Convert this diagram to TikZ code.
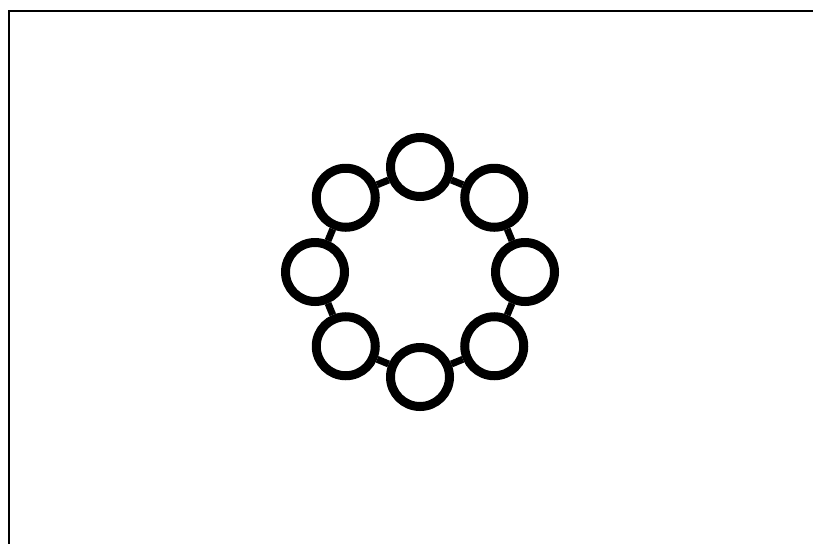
\documentclass[tikz,border=0pt]{standalone}
\usetikzlibrary{calc}
\begin{document}
\begin{tikzpicture}[x=1pt,y=1pt,
  ring/.style={circle,draw=black,fill=white,line width=9pt,minimum size=59pt,inner sep=0pt},
  link/.style={line width=7pt,black},
  frameline/.style={line width=2.2pt,black}]
\useasboundingbox (0,0) rectangle (813,-544);
\coordinate (fa) at (813,-11);
\coordinate (fb) at (9,-11);
\coordinate (fc) at (9,-544);
\draw[frameline] (fa) -- (fb) -- (fc);
\coordinate (c) at (420,-272);
\foreach \i/\a in {1/90,2/45,3/0,4/-45,5/-90,6/-135,7/180,8/135}{
  \node[ring] (n\i) at ($(c)+(\a:105)$) {};
}
\foreach \i/\j in {1/2,2/3,3/4,4/5,5/6,6/7,7/8,8/1}{
  \draw[link] (n\i) -- (n\j);
}
\end{tikzpicture}
\end{document}
